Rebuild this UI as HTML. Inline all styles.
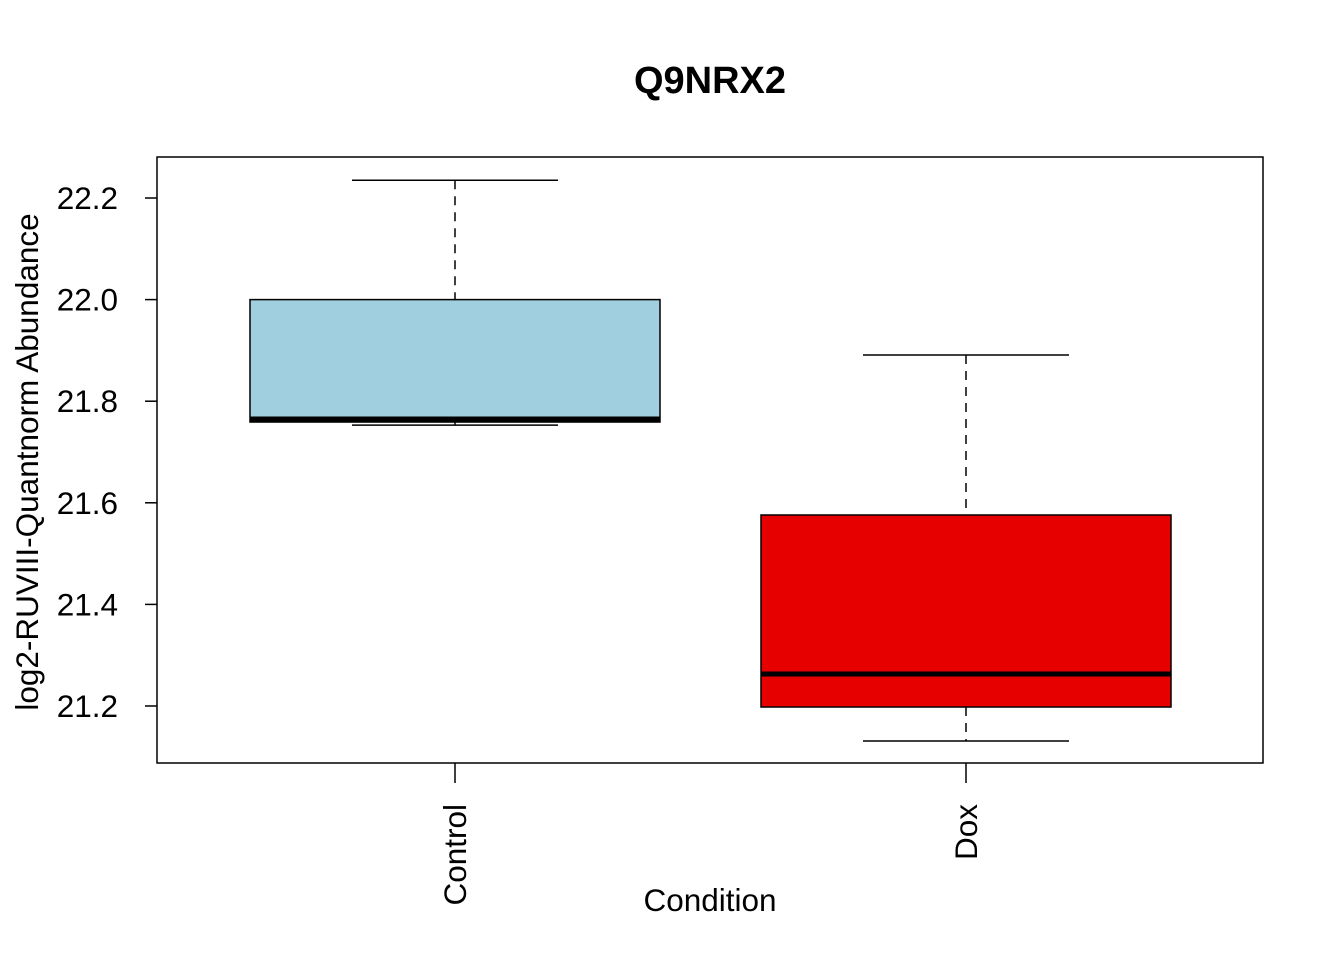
<!DOCTYPE html>
<html><head><meta charset="utf-8"><style>
body{margin:0;background:#fff}
svg text{font-family:"Liberation Sans",Arial,sans-serif;fill:#000}
</style></head><body>
<svg width="1344" height="960" xmlns="http://www.w3.org/2000/svg">
<text x="710" y="93" font-size="38" font-weight="bold" text-anchor="middle">Q9NRX2</text>
<rect x="157" y="157" width="1106" height="606" fill="none" stroke="#000" stroke-width="1.5"/>
<g id="yaxis"></g>
<g id="xaxis"></g>
<g id="boxes"></g>
<text transform="translate(38,462) rotate(-90)" font-size="31.5" text-anchor="middle">log2-RUVIII-Quantnorm Abundance</text>
<text x="710" y="911" font-size="31.5" text-anchor="middle">Condition</text>
</svg>
<script>
const categories=["Control","Dox"];
const mins=[21.753,21.131];
const q1s=[21.759,21.198];
const medians=[21.765,21.263];
const q3s=[22.0,21.576];
const maxs=[22.235,21.891];
const colors=["#A0CFDF","#E60000"];
const yTicks=[21.2,21.4,21.6,21.8,22.0,22.2];
const yTickLabels=["21.2","21.4","21.6","21.8","22.0","22.2"];
const NS="http://www.w3.org/2000/svg";
function y(v){return 706-(v-21.2)*508;}
function x(i){return 455+i*511;}
function mk(tag,attrs,parent){const e=document.createElementNS(NS,tag);for(const k in attrs)e.setAttribute(k,attrs[k]);parent.appendChild(e);return e;}
const ya=document.getElementById('yaxis'),xa=document.getElementById('xaxis'),bx=document.getElementById('boxes');
yTicks.forEach((t,i)=>{
 const l=mk('line',{x1:145,x2:157,y1:y(t),y2:y(t),stroke:'#000','stroke-width':1.5},ya);
 
 
 const tx=mk('text',{x:118,y:y(t)+11,'font-size':31.5,'text-anchor':'end'},ya);
 tx.textContent=yTickLabels[i];
 
 
});
categories.forEach((c,i)=>{
 const cx=x(i);
 const t=mk('line',{x1:cx,x2:cx,y1:763,y2:783,stroke:'#000','stroke-width':1.5},xa);
 
 
 const tx=mk('text',{transform:`translate(${cx+11},804) rotate(-90)`,'font-size':31.5,'text-anchor':'end'},xa);
 tx.textContent=c;
 
 
 const g=mk('g',{},bx);
 
 
 mk('line',{x1:cx,x2:cx,y1:y(maxs[i]),y2:y(q3s[i]),stroke:'#000','stroke-width':1.5,'stroke-dasharray':'9,7'},g);
 mk('line',{x1:cx,x2:cx,y1:y(q1s[i]),y2:y(mins[i]),stroke:'#000','stroke-width':1.5,'stroke-dasharray':'9,7'},g);
 mk('line',{x1:cx-103,x2:cx+103,y1:y(maxs[i]),y2:y(maxs[i]),stroke:'#000','stroke-width':1.5},g);
 mk('line',{x1:cx-103,x2:cx+103,y1:y(mins[i]),y2:y(mins[i]),stroke:'#000','stroke-width':1.5},g);
 mk('rect',{x:cx-205,y:y(q3s[i]),width:410,height:y(q1s[i])-y(q3s[i]),fill:colors[i],stroke:'#000','stroke-width':1.5},g);
 mk('line',{x1:cx-205,x2:cx+205,y1:y(medians[i]),y2:y(medians[i]),stroke:'#000','stroke-width':5},g);
});
</script>
</body></html>
